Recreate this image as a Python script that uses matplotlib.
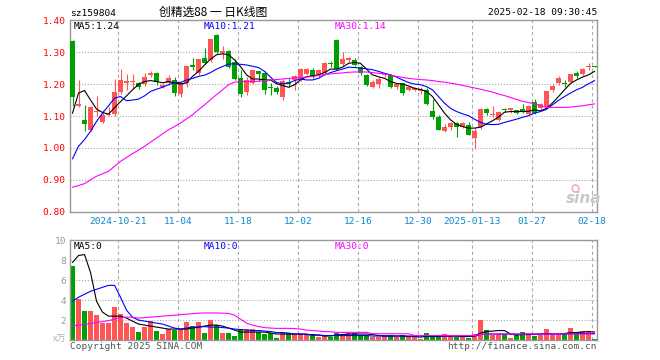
import numpy as np
import matplotlib
matplotlib.use("Agg")
import matplotlib.pyplot as plt

# ---- data (sz159804, daily K) ----
tick_idx = [8, 18, 28, 38, 48, 58, 67, 77, 87]
tick_labels = ["2024-10-21", "11-04", "11-18", "12-02", "12-16",
               "12-30", "2025-01-13", "01-27", "02-18"]

opens = [1.336, 1.131, 1.088, 1.056, 1.112, 1.081, 1.104, 1.106, 1.174, 1.205,
         1.206, 1.203, 1.201, 1.228, 1.234, 1.191, 1.203, 1.213, 1.168, 1.203,
         1.257, 1.234, 1.281, 1.276, 1.354, 1.296, 1.304, 1.268, 1.220, 1.174,
         1.205, 1.241, 1.236, 1.192, 1.187, 1.160, 1.208, 1.212, 1.216, 1.233,
         1.245, 1.228, 1.234, 1.264, 1.338, 1.263, 1.277, 1.276, 1.253, 1.229,
         1.192, 1.201, 1.227, 1.229, 1.190, 1.203, 1.182, 1.181, 1.178, 1.182,
         1.117, 1.098, 1.052, 1.064, 1.079, 1.067, 1.071, 1.031, 1.064, 1.123,
         1.104, 1.088, 1.121, 1.119, 1.118, 1.122, 1.106, 1.144, 1.126, 1.127,
         1.180, 1.204, 1.203, 1.206, 1.236, 1.232, 1.253, 1.255]
highs = [1.338, 1.213, 1.133, 1.131, 1.162, 1.120, 1.128, 1.215, 1.248, 1.231,
         1.231, 1.207, 1.236, 1.240, 1.238, 1.205, 1.229, 1.222, 1.208, 1.258,
         1.282, 1.280, 1.312, 1.342, 1.356, 1.318, 1.306, 1.278, 1.243, 1.222,
         1.245, 1.242, 1.240, 1.203, 1.195, 1.216, 1.220, 1.230, 1.250, 1.252,
         1.252, 1.248, 1.270, 1.272, 1.342, 1.302, 1.285, 1.282, 1.258, 1.232,
         1.212, 1.222, 1.235, 1.232, 1.204, 1.205, 1.193, 1.190, 1.190, 1.188,
         1.154, 1.102, 1.075, 1.080, 1.082, 1.080, 1.080, 1.062, 1.125, 1.125,
         1.131, 1.115, 1.126, 1.126, 1.120, 1.137, 1.134, 1.152, 1.140, 1.178,
         1.200, 1.225, 1.214, 1.232, 1.240, 1.252, 1.265, 1.256]
lows = [1.130, 1.127, 1.054, 1.054, 1.099, 1.078, 1.100, 1.100, 1.170, 1.182,
        1.185, 1.186, 1.193, 1.222, 1.198, 1.188, 1.196, 1.164, 1.160, 1.190,
        1.245, 1.230, 1.262, 1.270, 1.298, 1.280, 1.250, 1.212, 1.158, 1.165,
        1.200, 1.210, 1.168, 1.165, 1.170, 1.149, 1.192, 1.180, 1.210, 1.228,
        1.218, 1.222, 1.228, 1.255, 1.245, 1.258, 1.268, 1.256, 1.228, 1.194,
        1.188, 1.188, 1.222, 1.188, 1.186, 1.166, 1.178, 1.177, 1.170, 1.135,
        1.090, 1.055, 1.050, 1.055, 1.034, 1.063, 1.040, 0.998, 1.060, 1.102,
        1.097, 1.085, 1.113, 1.110, 1.105, 1.108, 1.102, 1.106, 1.120, 1.125,
        1.176, 1.198, 1.190, 1.204, 1.220, 1.228, 1.243, 1.253]
closes = [1.161, 1.139, 1.075, 1.128, 1.115, 1.104, 1.107, 1.176, 1.212, 1.207,
          1.207, 1.192, 1.222, 1.236, 1.208, 1.198, 1.219, 1.172, 1.205, 1.257,
          1.255, 1.278, 1.266, 1.340, 1.302, 1.305, 1.253, 1.216, 1.168, 1.213,
          1.243, 1.233, 1.180, 1.188, 1.174, 1.210, 1.199, 1.224, 1.247, 1.247,
          1.222, 1.244, 1.266, 1.262, 1.247, 1.278, 1.279, 1.261, 1.235, 1.196,
          1.208, 1.216, 1.230, 1.190, 1.200, 1.172, 1.190, 1.188, 1.186, 1.137,
          1.096, 1.057, 1.064, 1.079, 1.066, 1.077, 1.042, 1.054, 1.123, 1.108,
          1.107, 1.112, 1.118, 1.124, 1.110, 1.113, 1.132, 1.110, 1.137, 1.177,
          1.195, 1.218, 1.201, 1.231, 1.225, 1.247, 1.255, 1.254]

ma5 = [1.109, 1.172, 1.180, 1.150, 1.122, 1.111, 1.106, 1.126, 1.145, 1.163,
       1.182, 1.199, 1.208, 1.211, 1.208, 1.204, 1.208, 1.204, 1.200, 1.204,
       1.224, 1.240, 1.260, 1.278, 1.292, 1.295, 1.292, 1.276, 1.255, 1.229,
       1.216, 1.216, 1.213, 1.213, 1.201, 1.196, 1.190, 1.198, 1.213, 1.223,
       1.226, 1.229, 1.236, 1.247, 1.247, 1.253, 1.265, 1.268, 1.265, 1.247,
       1.229, 1.223, 1.218, 1.208, 1.202, 1.200, 1.194, 1.187, 1.183, 1.177,
       1.161, 1.135, 1.109, 1.088, 1.074, 1.067, 1.062, 1.062, 1.065, 1.075,
       1.085, 1.097, 1.112, 1.114, 1.114, 1.114, 1.115, 1.119, 1.116, 1.124,
       1.141, 1.161, 1.182, 1.202, 1.213, 1.222, 1.229, 1.240]
ma10 = [0.966, 1.005, 1.026, 1.052, 1.083, 1.109, 1.132, 1.156, 1.161, 1.148,
        1.150, 1.153, 1.163, 1.177, 1.184, 1.190, 1.198, 1.205, 1.205, 1.213,
        1.218, 1.224, 1.228, 1.236, 1.247, 1.255, 1.263, 1.263, 1.262, 1.260,
        1.256, 1.252, 1.240, 1.222, 1.205, 1.201, 1.203, 1.211, 1.216, 1.213,
        1.213, 1.218, 1.229, 1.236, 1.242, 1.247, 1.253, 1.252, 1.250, 1.248,
        1.245, 1.240, 1.234, 1.229, 1.222, 1.213, 1.205, 1.200, 1.198, 1.192,
        1.182, 1.161, 1.140, 1.124, 1.114, 1.107, 1.101, 1.090, 1.080, 1.074,
        1.073, 1.074, 1.080, 1.085, 1.090, 1.096, 1.101, 1.109, 1.114, 1.121,
        1.135, 1.149, 1.161, 1.172, 1.182, 1.190, 1.201, 1.211]
ma30 = [0.877, 0.882, 0.888, 0.900, 0.911, 0.919, 0.927, 0.942, 0.958, 0.970,
        0.982, 0.993, 1.005, 1.018, 1.031, 1.044, 1.057, 1.067, 1.078, 1.091,
        1.104, 1.120, 1.135, 1.151, 1.167, 1.182, 1.198, 1.206, 1.208, 1.208,
        1.208, 1.209, 1.211, 1.213, 1.214, 1.216, 1.218, 1.219, 1.221, 1.222,
        1.224, 1.227, 1.230, 1.232, 1.234, 1.235, 1.237, 1.238, 1.238, 1.238,
        1.236, 1.234, 1.232, 1.228, 1.224, 1.221, 1.218, 1.216, 1.214, 1.213,
        1.211, 1.208, 1.206, 1.203, 1.200, 1.196, 1.192, 1.188, 1.184, 1.179,
        1.175, 1.169, 1.164, 1.158, 1.152, 1.146, 1.142, 1.138, 1.132, 1.127,
        1.127, 1.127, 1.127, 1.128, 1.130, 1.132, 1.135, 1.138]

# volume in units of 10k (万)
volume = [7.4, 4.1, 2.9, 2.9, 2.5, 1.7, 1.7, 3.3, 2.6, 1.7,
          1.3, 0.8, 1.3, 1.9, 0.9, 0.6, 1.1, 1.0, 1.1, 1.8,
          1.4, 1.8, 0.7, 2.0, 1.5, 0.7, 0.7, 0.4, 1.1, 1.1,
          1.1, 0.8, 0.6, 0.7, 0.2, 0.7, 0.7, 0.6, 0.6, 0.6,
          0.6, 0.3, 0.4, 0.3, 0.7, 0.6, 0.7, 0.7, 0.5, 0.5,
          0.3, 0.3, 0.5, 0.5, 0.3, 0.5, 0.3, 0.3, 0.1, 0.7,
          0.4, 0.3, 0.6, 0.4, 0.3, 0.3, 0.2, 0.6, 2.0, 1.0,
          0.5, 0.6, 0.6, 0.2, 0.5, 0.8, 0.5, 0.4, 0.5, 1.1,
          0.5, 0.5, 0.6, 1.2, 0.8, 0.9, 0.8, 0.1]
vol_ma5 = [7.8, 8.5, 8.6, 6.8, 3.9, 2.8, 2.4, 2.4, 2.4, 2.2,
           1.9, 1.6, 1.5, 1.4, 1.3, 1.2, 1.1, 1.1, 1.1, 1.1,
           1.2, 1.3, 1.4, 1.5, 1.5, 1.4, 1.2, 1.0, 0.8, 0.8,
           0.8, 0.8, 0.8, 0.7, 0.6, 0.6, 0.6, 0.6, 0.6, 0.6,
           0.5, 0.5, 0.4, 0.4, 0.5, 0.55, 0.6, 0.6, 0.6, 0.6,
           0.55, 0.45, 0.4, 0.4, 0.4, 0.4, 0.35, 0.35, 0.3, 0.35,
           0.35, 0.35, 0.4, 0.4, 0.4, 0.35, 0.35, 0.4, 0.7, 0.85,
           0.9, 0.95, 0.95, 0.6, 0.5, 0.55, 0.55, 0.55, 0.6, 0.65,
           0.6, 0.6, 0.65, 0.75, 0.75, 0.8, 0.85, 0.8]
vol_ma10 = [3.9, 4.3, 4.6, 4.9, 5.1, 5.3, 5.5, 5.5, 4.3, 3.0,
            2.3, 2.0, 1.9, 1.8, 1.7, 1.6, 1.4, 1.2, 1.1, 1.2,
            1.3, 1.3, 1.35, 1.3, 1.3, 1.25, 1.2, 1.1, 1.05, 1.0,
            0.95, 0.95, 0.9, 0.85, 0.75, 0.75, 0.7, 0.6, 0.6, 0.55,
            0.5, 0.5, 0.45, 0.45, 0.45, 0.45, 0.45, 0.45, 0.45, 0.45,
            0.4, 0.4, 0.4, 0.4, 0.4, 0.4, 0.4, 0.4, 0.4, 0.4,
            0.4, 0.4, 0.4, 0.4, 0.4, 0.4, 0.4, 0.4, 0.55, 0.6,
            0.6, 0.6, 0.6, 0.6, 0.6, 0.6, 0.6, 0.6, 0.6, 0.6,
            0.6, 0.6, 0.6, 0.62, 0.62, 0.65, 0.65, 0.65]
vol_ma30 = [1.4, 1.5, 1.55, 1.65, 1.75, 1.85, 1.95, 2.1, 2.25, 2.3,
            2.3, 2.2, 2.25, 2.3, 2.35, 2.4, 2.45, 2.5, 2.55, 2.6,
            2.65, 2.7, 2.72, 2.72, 2.72, 2.7, 2.68, 2.5, 2.1, 1.7,
            1.5, 1.35, 1.25, 1.2, 1.17, 1.17, 1.17, 1.15, 1.1, 1.0,
            0.95, 0.9, 0.85, 0.83, 0.77, 0.77, 0.77, 0.77, 0.77, 0.77,
            0.63, 0.63, 0.63, 0.63, 0.63, 0.63, 0.63, 0.45, 0.45, 0.45,
            0.45, 0.45, 0.45, 0.45, 0.45, 0.45, 0.45, 0.45, 0.55, 0.6,
            0.6, 0.6, 0.6, 0.6, 0.6, 0.6, 0.6, 0.6, 0.6, 0.6,
            0.6, 0.6, 0.6, 0.6, 0.6, 0.6, 0.6, 0.6]

price_ticks = [0.8, 0.9, 1.0, 1.1, 1.2, 1.3, 1.4]
vol_ticks = [2, 4, 6, 8, 10]

RED = "#ff5555"
GREEN = "#00a000"
GRID = "#aaaaaa"
MONO = "DejaVu Sans Mono"
CJK = ["Noto Sans CJK SC", "DejaVu Sans"]
W, H = 660, 360


def fx(px):
    return px / W


def fy(py):
    return 1 - py / H


def slot(px):
    # pixel x inside the panels -> data x (6 px per trading day)
    return (px - 70) / 6.0


fig = plt.figure(figsize=(6.6, 3.6), dpi=100)
fig.patch.set_facecolor("white")

ax = fig.add_axes([fx(70), fy(211.7), (597 - 70) / W, (211.7 - 20.3) / H])
axv = fig.add_axes([fx(70), fy(340), (597 - 70) / W, (340 - 240.3) / H])

x = np.arange(len(opens))
o, h, l, c = map(np.array, (opens, highs, lows, closes))
cols = np.where(c >= o, RED, GREEN)
xmax = slot(597)

for a in (ax, axv):
    a.set_xlim(0, xmax)
    for s in a.spines.values():
        s.set_color("#999999")
        s.set_linewidth(1.0)
    a.set_xticks(tick_idx)
    a.tick_params(length=0)
    a.vlines(tick_idx, 0, 1, transform=a.get_xaxis_transform(),
             colors=GRID, lw=0.8, linestyles=(0, (3, 2.5)), zorder=0)

# price panel
ax.set_ylim(0.8, 1.4)
ax.hlines(price_ticks[1:-1], 0, xmax, colors=GRID, lw=0.8,
          linestyles=(0, (1, 1.6)), zorder=0)
ax.vlines(x + 0.42, l, h, colors=cols, lw=0.8, zorder=2)
ax.bar(x, np.maximum(np.abs(c - o), 0.0035), bottom=np.minimum(o, c),
       width=0.83, align="edge", color=cols, lw=0, zorder=3)
ax.plot(x + 0.42, ma5, color="black", lw=0.8, zorder=4)
ax.plot(x + 0.42, ma10, color="#0000ff", lw=0.8, zorder=4)
ax.plot(x + 0.42, ma30, color="#ff00ff", lw=0.8, zorder=4)

ax.set_yticks(price_ticks)
ax.set_yticklabels([f"{v:.2f}" for v in price_ticks],
                   color="#ff0000", family=MONO, fontsize=6.8)
ax.set_xticklabels(tick_labels, color="#0a88d0", family=MONO, fontsize=6.8)
ax.tick_params(axis="y", pad=3)
ax.tick_params(axis="x", pad=4)

ax.text(slot(74), 1.382, "MA5:1.24", color="black", family=MONO,
        fontsize=6.8, va="center")
ax.text(slot(204), 1.382, "MA10:1.21", color="#0000ff", family=MONO,
        fontsize=6.8, va="center")
ax.text(slot(334.7), 1.382, "MA30:1.14", color="#ff00ff", family=MONO,
        fontsize=6.8, va="center")

# sina watermark
ax.text(slot(584), 0.84, "sina", color="#c8c8c8", fontsize=11,
        fontweight="bold", fontstyle="italic", ha="center", va="center")
ax.plot([slot(575)], [0.875], marker="o", ms=5, mfc="none",
        mec="#f2b0b0", mew=1.2)

# volume panel
axv.set_ylim(0, 10.03)
axv.hlines(vol_ticks[:-1], 0, xmax, colors=GRID, lw=0.8,
           linestyles=(0, (1, 1.6)), zorder=0)
axv.bar(x, volume, width=0.83, align="edge", color=cols, lw=0, zorder=2)
axv.plot(x + 0.42, vol_ma5, color="black", lw=0.8, zorder=3)
axv.plot(x + 0.42, vol_ma10, color="#0000ff", lw=0.8, zorder=3)
axv.plot(x + 0.42, vol_ma30, color="#ff00ff", lw=0.8, zorder=3)
axv.set_yticks(vol_ticks)
axv.set_yticklabels([str(v) for v in vol_ticks],
                    color="#999999", family=MONO, fontsize=6.8)
axv.tick_params(axis="y", pad=3)
axv.set_xticklabels([])

axv.text(slot(74), 9.4, "MA5:0", color="black", family=MONO,
         fontsize=6.8, va="center")
axv.text(slot(204), 9.4, "MA10:0", color="#0000ff", family=MONO,
         fontsize=6.8, va="center")
axv.text(slot(334.7), 9.4, "MA30:0", color="#ff00ff", family=MONO,
         fontsize=6.8, va="center")

fig.text(fx(66), fy(339), "x万", color="#b0b0b0", fontsize=6.5,
         family=CJK, ha="right", va="center")

# header and footer
fig.text(fx(70), fy(13), "sz159804", color="black", family=MONO,
         fontsize=6.8, ha="left", va="center")
fig.text(fx(213), fy(12.5), "创精选88 一 日K线图", color="black",
         family=CJK, fontsize=8.5, ha="center", va="center")
fig.text(fx(597), fy(12.5), "2025-02-18 09:30:45", color="black",
         family=MONO, fontsize=6.8, ha="right", va="center")
fig.text(fx(70), fy(346.5), "Copyright 2025 SINA.COM", color="#555555",
         family=MONO, fontsize=6.8, ha="left", va="center")
fig.text(fx(597), fy(346.5), "http://finance.sina.com.cn", color="#555555",
         family=MONO, fontsize=6.8, ha="right", va="center")

fig.savefig("out.png", dpi=100, facecolor="white")
